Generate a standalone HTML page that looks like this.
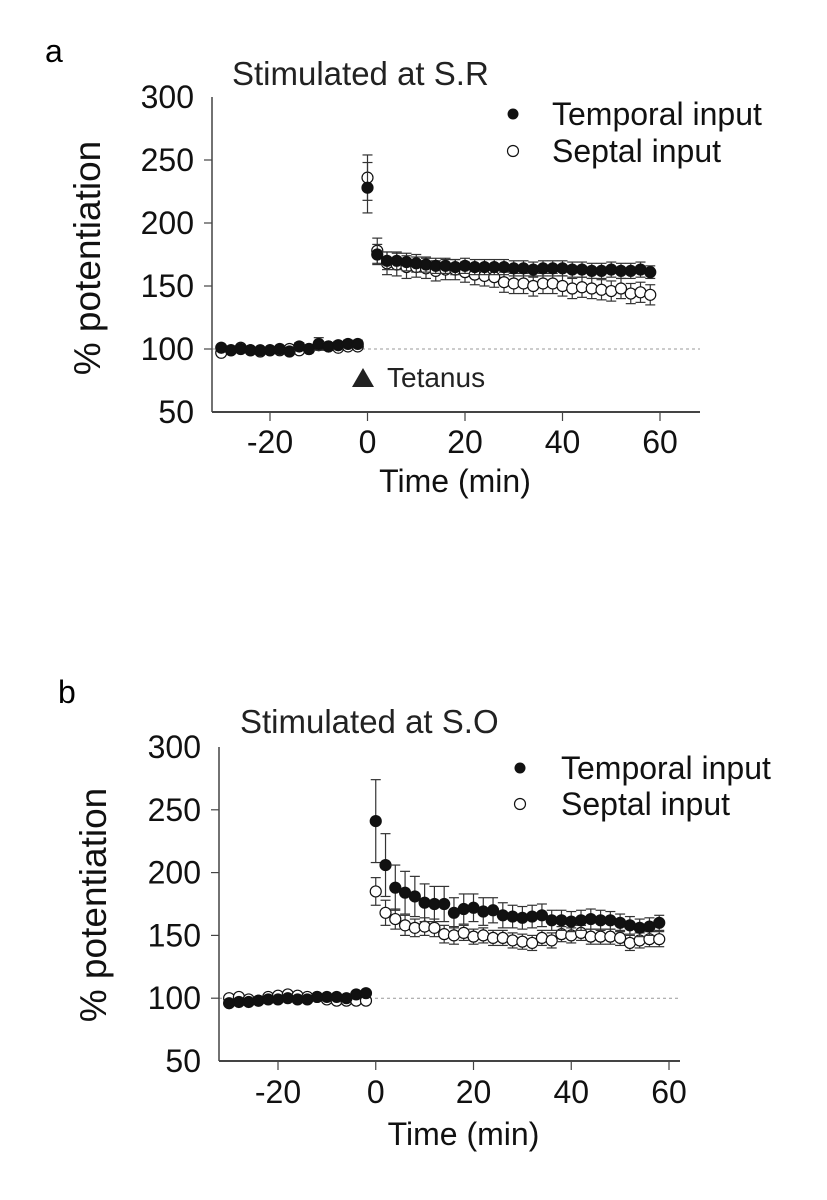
<!DOCTYPE html>
<html><head><meta charset="utf-8"><style>
html,body{margin:0;padding:0;background:#fff;}
svg{display:block;font-family:"Liberation Sans",Arial,sans-serif;}
</style></head><body>
<svg id="fig" width="827" height="1200" viewBox="0 0 827 1200">
<text x="45" y="62" font-size="32">a</text>
<text x="232" y="85" font-size="33" fill="#222">Stimulated at S.R</text>
<text x="58" y="703" font-size="32">b</text>
<text x="240" y="733" font-size="33" fill="#222">Stimulated at S.O</text>
</svg>
<script>
// shared data arrays
const preTimes = [-30,-28,-26,-24,-22,-20,-18,-16,-14,-12,-10,-8,-6,-4,-2];
const postTimes = [0,2,4,6,8,10,12,14,16,18,20,22,24,26,28,30,32,34,36,38,40,42,44,46,48,50,52,54,56,58];
const xTicks = [-20,0,20,40,60];
const yTicks = [50,100,150,200,250,300];

// panel a
const aTempPre = [101,99,100,99,99,99,100,98,102,100,104,102,103,104,104];
const aSeptPre = [97,99,101,99,98,99,99,100,99,100,103,102,101,102,102];
const aTempPost = [228,175,170,170,169,168,167,166,166,165,166,165,165,165,165,164,164,163,164,164,164,163,163,162,162,163,162,162,163,161];
const aSeptPost = [236,178,168,167,165,165,164,162,163,163,161,159,158,157,153,152,152,150,152,152,150,148,149,148,147,146,148,144,145,143];
const aTempErrPre = [2,2,2,2,2,2,2,2,3,3,5,3,3,3,3];
const aTempErrPost = [20,8,7,7,7,7,6,6,6,6,6,6,6,6,6,6,6,6,6,6,6,6,6,6,6,6,6,6,6,5];
const aSeptErrPost = [18,10,9,9,9,8,8,8,8,8,8,8,8,8,8,8,8,8,8,8,8,8,8,8,8,8,8,8,8,8];

// panel b
const bTempPre = [96,97,97,98,99,99,100,99,99,101,101,101,100,103,104];
const bSeptPre = [100,101,99,98,101,102,103,102,101,101,99,98,98,98,98];
const bTempPost = [241,206,188,184,181,176,175,175,168,171,172,169,170,166,165,164,165,166,162,162,161,162,163,162,162,160,158,156,157,160];
const bSeptPost = [185,168,163,158,156,157,156,151,150,152,149,150,148,148,146,145,144,148,146,151,150,152,149,149,149,148,144,146,147,147];
const bTempErrPost = [33,25,18,17,16,15,14,14,12,12,11,11,10,10,9,9,9,9,8,8,8,8,8,8,7,7,7,7,7,6];
const bSeptErrPost = [11,10,8,8,7,7,7,7,7,6,6,6,6,6,6,6,6,6,6,6,6,6,6,6,6,6,6,6,6,6];

const NS = 'http://www.w3.org/2000/svg';
const svg = document.getElementById('fig');
function mk(tag, attrs, parent){
  const e = document.createElementNS(NS, tag);
  for (const k in attrs) e.setAttribute(k, attrs[k]);
  (parent||svg).appendChild(e);
  return e;
}

function panel(p, cfg){
  const g = mk('g', {});
  
  
  const X = t => cfg.x0 + (t - (-20)) * (cfg.x60 - cfg.x0) / 80;
  const Y = v => cfg.y50 - (v - 50) * (cfg.y50 - cfg.y300) / 250;
  const dl = mk('line', {x1: cfg.axX, x2: cfg.axEnd, y1: Y(100), y2: Y(100), stroke: '#999', 'stroke-width': 1, 'stroke-dasharray': '3,3'}, g);
  
  
  const ya = mk('line', {x1: cfg.axX, x2: cfg.axX, y1: cfg.y300, y2: cfg.y50, stroke: '#444', 'stroke-width': 1.5}, g);
  
  
  const xa = mk('line', {x1: cfg.axX, x2: cfg.axEnd, y1: cfg.y50, y2: cfg.y50, stroke: '#444', 'stroke-width': 2}, g);
  
  
  yTicks.forEach(v => {
    if (v !== 50 && v !== 300) mk('line', {x1: cfg.axX - 8, x2: cfg.axX, y1: Y(v), y2: Y(v), stroke: '#444', 'stroke-width': 1.2}, g);
    const t = mk('text', {x: cfg.ylabR, y: Y(v) + 11, 'font-size': 32, 'text-anchor': 'end', fill: '#111'}, g);
    t.textContent = v;
    
    
  });
  xTicks.forEach(v => {
    mk('line', {x1: X(v), x2: X(v), y1: cfg.y50, y2: cfg.y50 + 9, stroke: '#444', 'stroke-width': 1.2}, g);
    const t = mk('text', {x: X(v), y: cfg.xlabY, 'font-size': 32, 'text-anchor': 'middle', fill: '#111'}, g);
    t.textContent = v;
    
    
  });
  const xt = mk('text', {x: (X(0) + X(40)) / 2 - 10, y: cfg.xtitleY, 'font-size': 32, 'text-anchor': 'middle', fill: '#111'}, g);
  xt.textContent = 'Time (min)';
  
  
  const yt = mk('text', {x: 0, y: 0, 'font-size': 37, 'text-anchor': 'middle', fill: '#111', transform: 'translate(' + cfg.ytX + ',' + cfg.ytY + ') rotate(-90)'}, g);
  yt.textContent = '% potentiation';
  
  

  function series(name, times, vals, errs, filled){
    const sg = mk('g', {}, g);
    
    
    times.forEach((t, i) => {
      const cx = X(t), cy = Y(vals[i]);
      if (errs) {
        const e = errs[i];
        const top = Y(vals[i] + e), bot = Y(vals[i] - e);
        mk('line', {x1: cx, x2: cx, y1: top, y2: bot, stroke: '#333', 'stroke-width': 1.2}, sg);
        mk('line', {x1: cx - 5, x2: cx + 5, y1: top, y2: top, stroke: '#333', 'stroke-width': 1.2}, sg);
        mk('line', {x1: cx - 5, x2: cx + 5, y1: bot, y2: bot, stroke: '#333', 'stroke-width': 1.2}, sg);
      }
      const c = mk('circle', {cx: cx, cy: cy, r: 5.5, fill: filled ? '#111' : '#fff', stroke: '#111', 'stroke-width': 1.2}, sg);
      
      
    });
  }
  series('septal-pre', preTimes, cfg.sPre, null, false);
  series('temporal-pre', preTimes, cfg.tPre, cfg.tErrPre, true);
  series('septal-post', postTimes, cfg.sPost, cfg.sErr, false);
  series('temporal-post', postTimes, cfg.tPost, cfg.tErr, true);

  const lg = mk('g', {}, g);
  
  
  const d1 = mk('circle', {cx: cfg.legX, cy: cfg.legY1, r: 5.5, fill: '#111'}, lg);
  
  
  const l1 = mk('text', {x: cfg.legTX, y: cfg.legY1 + 11, 'font-size': 32, fill: '#111'}, lg);
  l1.textContent = 'Temporal input';
  
  
  const d2 = mk('circle', {cx: cfg.legX, cy: cfg.legY2, r: 5.5, fill: '#fff', stroke: '#111', 'stroke-width': 1.2}, lg);
  
  
  const l2 = mk('text', {x: cfg.legTX, y: cfg.legY2 + 11, 'font-size': 32, fill: '#111'}, lg);
  l2.textContent = 'Septal input';
  
  
}

panel('a', {x0: 270, x60: 660, y50: 412, y300: 97, axX: 212, axEnd: 700, ylabR: 194, xlabY: 453, xtitleY: 492, ytX: 100, ytY: 258,
  tPre: aTempPre, sPre: aSeptPre, tPost: aTempPost, sPost: aSeptPost, tErrPre: aTempErrPre, tErr: aTempErrPost, sErr: aSeptErrPost,
  legX: 513, legY1: 114, legY2: 151, legTX: 552});
panel('b', {x0: 278, x60: 669, y50: 1061, y300: 747, axX: 219, axEnd: 680, ylabR: 201, xlabY: 1103, xtitleY: 1145, ytX: 106, ytY: 905,
  tPre: bTempPre, sPre: bSeptPre, tPost: bTempPost, sPost: bSeptPost, tErrPre: null, tErr: bTempErrPost, sErr: bSeptErrPost,
  legX: 520, legY1: 768, legY2: 804, legTX: 561});

const tri = mk('polygon', {points: '352,387 374,387 363,368', fill: '#222'});


const tt = mk('text', {x: 387, y: 387, 'font-size': 28, fill: '#222'});
tt.textContent = 'Tetanus';


</script>
</body></html>
